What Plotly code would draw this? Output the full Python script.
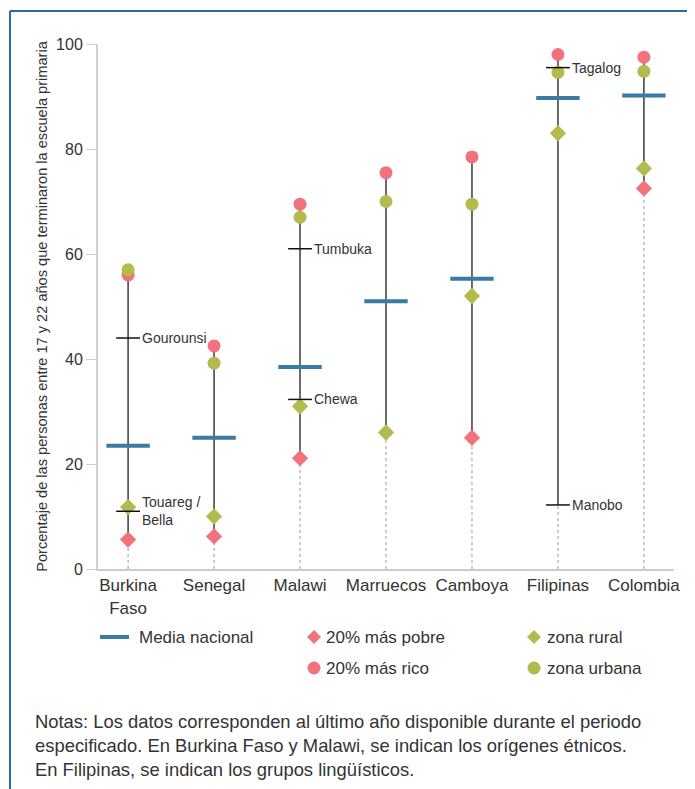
import plotly.graph_objects as go

# ---------------- data ----------------
countries = ["Burkina Faso", "Senegal", "Malawi", "Marruecos", "Camboya", "Filipinas", "Colombia"]
tick_labels = ["Burkina<br>Faso", "Senegal", "Malawi", "Marruecos", "Camboya", "Filipinas", "Colombia"]
media_nacional = [23.5, 25.0, 38.5, 51.0, 55.3, 89.7, 90.2]
mas_pobre = [5.6, 6.2, 21.1, None, 25.0, None, 72.5]
mas_rico = [56.0, 42.5, 69.5, 75.5, 78.5, 98.0, 97.5]
zona_rural = [11.8, 10.0, 31.0, 26.0, 52.0, 83.0, 76.3]
zona_urbana = [57.0, 39.2, 67.0, 70.0, 69.5, 94.6, 94.8]

grupo_pais = ["Burkina Faso", "Burkina Faso", "Malawi", "Malawi", "Filipinas", "Filipinas"]
grupo_nombre = ["Gourounsi", "Touareg /<br>Bella", "Tumbuka", "Chewa", "Tagalog", "Manobo"]
grupo_valor = [44.0, 11.0, 61.0, 32.3, 95.5, 12.2]

y_title = "Porcentaje de las personas entre 17 y 22 años que terminaron la escuela primaria"
legend_labels = ["Media nacional", "20% más pobre", "zona rural", "20% más rico", "zona urbana"]
notes = ("Notas: Los datos corresponden al último año disponible durante el periodo<br>"
         "especificado. En Burkina Faso y Malawi, se indican los orígenes étnicos.<br>"
         "En Filipinas, se indican los grupos lingüísticos.")

# ---------------- style ----------------
PINK = "#F2727B"
OLIVE = "#B3BB4F"
BLUE = "#3A7AA5"
FRAME = "#2F6A99"
TXT = "#333333"
FONT = "Liberation Sans, Arial, sans-serif"

OFF = 8  # page body margin
W, H = 695 - OFF, 789 - OFF
L = 98 - OFF
T = 44 - OFF
B = H - (569 - OFF)
R = W - (674 - OFF)
PW, PH = W - L - R, H - T - B


def px(xp):
    # xp in reference-screen pixels
    return (xp - OFF - L) / PW


def py(yp):
    return (H - B - (yp - OFF)) / PH


# ---------------- ranges per country ----------------
solid_x, solid_y, dot_x, dot_y = [], [], [], []
for i, c in enumerate(countries):
    vals = [v for v in (media_nacional[i], mas_pobre[i], mas_rico[i], zona_rural[i], zona_urbana[i]) if v is not None]
    vals += [v for p, v in zip(grupo_pais, grupo_valor) if p == c]
    lo, hi = min(vals), max(vals)
    solid_x += [c, c, None]
    solid_y += [lo, hi, None]
    dot_x += [c, c, None]
    dot_y += [0, lo, None]

fig = go.Figure()
fig.add_trace(go.Scatter(x=dot_x, y=dot_y, mode="lines",
                         line=dict(color="#9a9a9a", width=1, dash="dot"),
                         hoverinfo="skip", showlegend=False))
fig.add_trace(go.Scatter(x=solid_x, y=solid_y, mode="lines",
                         line=dict(color="#3a3a3a", width=1.5),
                         hoverinfo="skip", showlegend=False))
fig.add_trace(go.Scatter(x=countries, y=media_nacional, mode="markers", name=legend_labels[0],
                         marker=dict(symbol="line-ew", size=31, line=dict(color=BLUE, width=4)),
                         showlegend=False))
fig.add_trace(go.Scatter(x=countries, y=mas_pobre, mode="markers", name=legend_labels[1],
                         marker=dict(symbol="diamond", size=12.5, color=PINK), showlegend=False))
fig.add_trace(go.Scatter(x=countries, y=zona_rural, mode="markers", name=legend_labels[2],
                         marker=dict(symbol="diamond", size=12.5, color=OLIVE), showlegend=False))
fig.add_trace(go.Scatter(x=countries, y=mas_rico, mode="markers", name=legend_labels[3],
                         marker=dict(symbol="circle", size=13, color=PINK), showlegend=False))
fig.add_trace(go.Scatter(x=countries, y=zona_urbana, mode="markers", name=legend_labels[4],
                         marker=dict(symbol="circle", size=13, color=OLIVE), showlegend=False))
fig.add_trace(go.Scatter(x=grupo_pais, y=grupo_valor, mode="markers",
                         marker=dict(symbol="line-ew", size=17, line=dict(color="#111111", width=1.5)),
                         hoverinfo="skip", showlegend=False))

annotations = []
for p, n, v in zip(grupo_pais, grupo_nombre, grupo_valor):
    annotations.append(dict(x=p, y=v, xref="x", yref="y", text=n, showarrow=False,
                            xanchor="left", yanchor="middle", xshift=12, align="left",
                            font=dict(family=FONT, size=14, color=TXT)))

shapes = []
# frame
shapes.append(dict(type="line", xref="paper", yref="paper", x0=px(10), x1=px(700), y0=py(11), y1=py(11),
                   line=dict(color=FRAME, width=2)))
shapes.append(dict(type="line", xref="paper", yref="paper", x0=px(10), x1=px(10), y0=py(11), y1=py(795),
                   line=dict(color=FRAME, width=2)))

# legend
row1, row2 = 637, 668
shapes.append(dict(type="line", xref="paper", yref="paper", x0=px(100), x1=px(129), y0=py(row1), y1=py(row1),
                   line=dict(color=BLUE, width=4)))


def diamond(xc, yc, color):
    return dict(type="path", xref="paper", yref="paper", xsizemode="pixel", ysizemode="pixel",
                xanchor=px(xc), yanchor=py(yc), path="M -7 0 L 0 7 L 7 0 L 0 -7 Z",
                fillcolor=color, line=dict(width=0))


def circle(xc, yc, color):
    return dict(type="circle", xref="paper", yref="paper", xsizemode="pixel", ysizemode="pixel",
                xanchor=px(xc), yanchor=py(yc), x0=-6.5, x1=6.5, y0=-6.5, y1=6.5,
                fillcolor=color, line=dict(width=0))


shapes += [diamond(314, row1, PINK), diamond(534, row1, OLIVE),
           circle(314, row2, PINK), circle(534, row2, OLIVE)]

leg_pos = [(137, row1), (324, row1), (545, row1), (324, row2), (545, row2)]
for lab, (xx, yy) in zip(legend_labels, leg_pos):
    annotations.append(dict(x=px(xx), y=py(yy), xref="paper", yref="paper", text=lab, showarrow=False,
                            xanchor="left", yanchor="middle", font=dict(family=FONT, size=17, color=TXT)))

annotations.append(dict(x=px(33), y=py(709), xref="paper", yref="paper", text=notes, showarrow=False,
                        xanchor="left", yanchor="top", align="left",
                        font=dict(family=FONT, size=18.4, color=TXT)))

fig.update_layout(
    width=W, height=H,
    margin=dict(l=L, r=R, t=T, b=B, autoexpand=False),
    paper_bgcolor="white", plot_bgcolor="white",
    font=dict(family=FONT, color=TXT),
    shapes=shapes, annotations=annotations,
    xaxis=dict(type="category", categoryorder="array", categoryarray=countries,
               tickvals=countries, ticktext=tick_labels,
               range=[-0.35, len(countries) - 0.65],
               showline=True, linecolor="#cccccc", linewidth=2, ticks="", showgrid=False,
               zeroline=False, tickfont=dict(size=17, color=TXT)),
    yaxis=dict(range=[0, 100], tickvals=[0, 20, 40, 60, 80, 100],
               showline=True, linecolor="#d0d0d0", linewidth=2, ticks="outside", ticklen=10,
               tickcolor="#d0d0d0", tickwidth=1, showgrid=False, zeroline=False,
               tickfont=dict(size=16, color=TXT),
               title=dict(text=y_title, font=dict(size=14.6, color=TXT), standoff=5)),
)
for tr in fig.data:
    tr.cliponaxis = False

fig.write_html("out.html")
